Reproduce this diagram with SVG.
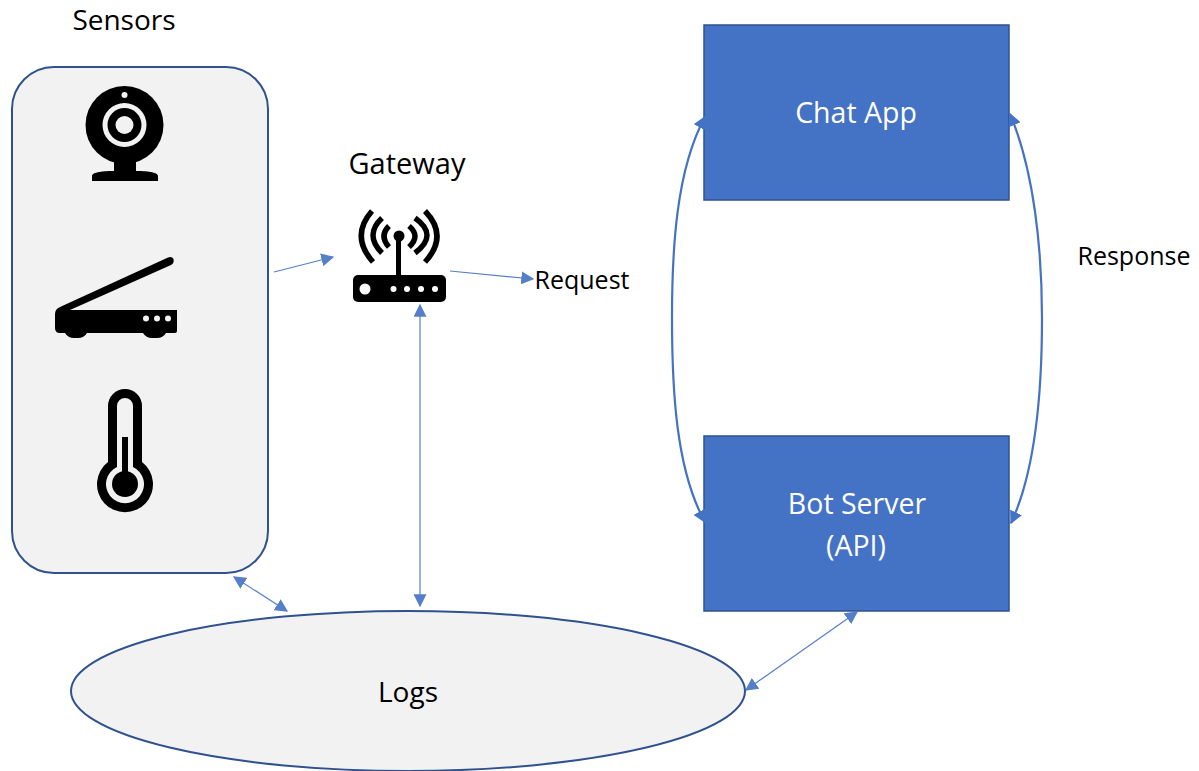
<svg xmlns="http://www.w3.org/2000/svg" width="1199" height="771" viewBox="0 0 1199 771">
<style>
text{font-family:"Open Sans","Noto Sans",sans-serif;font-size:25px;fill:#000;text-anchor:middle}
.w{fill:#fff;font-size:28.5px}
.box{fill:#4472c4;stroke:#2f528f;stroke-width:1.5}
.shape{fill:#f2f2f2;stroke:#2f528f;stroke-width:2}
.c{fill:none;stroke:#4472c4;stroke-width:1.2;opacity:.9}
.t{fill:none;stroke:#4472c4;stroke-width:2.2}
.k{fill:#000}
.g{fill:#f2f2f2}
.arc{fill:none;stroke:#000;stroke-width:5.500;stroke-linecap:butt}
</style>
<defs>
<marker id="e" viewBox="0 0 10 10" refX="9" refY="5" markerWidth="13" markerHeight="13" markerUnits="userSpaceOnUse" orient="auto-start-reverse"><path d="M0 0L10 5L0 10Z" fill="#4472c4"/></marker>
</defs>
<rect width="1199" height="771" fill="#fff"/>
<g id="sensors">
<rect class="shape" x="12" y="67" width="256" height="506" rx="42"/>
<text x="124" y="30" style="font-size:28px">Sensors</text>
</g>
<g id="webcam">
<circle class="k" cx="124.500" cy="125" r="39"/>
<circle cx="124.500" cy="95" r="3" fill="#f2f2f2"/>
<circle class="g" cx="124.500" cy="125" r="22"/>
<circle class="k" cx="124.500" cy="125" r="17"/>
<circle class="g" cx="124.500" cy="125" r="9"/>
<path class="k" d="M114 160H136V171C146 171 158 172 158 176V181H92V176C92 172 104 171 114 171Z"/>
</g>
<g id="scanner">
<path class="k" d="M55 314Q55 309 60 307L168 257.500Q172 256 173.500 259Q174.500 263 171 265L70 310H177V331Q177 333 175 333H166Q163 338 157 338H152Q146 338 143 333H87Q84 338 78 338H74Q68 338 65 333H60Q55 333 55 328Z"/>
<circle class="g" cx="146" cy="318.500" r="3"/><circle class="g" cx="157" cy="318.500" r="3"/><circle class="g" cx="168" cy="318.500" r="3"/>
</g>
<g id="thermometer">
<path class="k" d="M108 462V406A17 17 0 0 1 142 406V462A28 28 0 1 1 108 462Z"/>
<path class="g" d="M117 467V406A8 8 0 0 1 133 406V467A19 19 0 1 1 117 467Z"/>
<rect class="k" x="122" y="437" width="6" height="40"/>
<circle class="k" cx="125" cy="484" r="13"/>
</g>
<g id="gateway">
<text x="407" y="174" style="font-size:29px">Gateway</text>
<rect class="k" x="353" y="275" width="93" height="27" rx="5"/>
<rect class="k" x="396" y="236" width="5" height="42"/>
<circle class="k" cx="399" cy="236" r="5.500"/>
<circle cx="365" cy="289" r="5.500" fill="#fff"/>
<circle cx="393.500" cy="289" r="3" fill="#fff"/><circle cx="407" cy="289" r="3" fill="#fff"/><circle cx="421" cy="289" r="3" fill="#fff"/><circle cx="435" cy="289" r="3" fill="#fff"/>
<path class="arc" d="M389 226Q379 236 389 247M409 226Q421 236 409 247M382 218Q364 235 382 253M415 218Q439 235 415 253M372 211Q350 236 373 262M425 211Q449 236 425 262"/>
</g>
<g id="chat-app">
<rect class="box" x="704" y="25" width="305" height="175"/>
<text class="w" x="856" y="123">Chat App</text>
</g>
<g id="bot-server">
<rect class="box" x="704" y="436" width="305" height="175"/>
<text class="w" x="857" y="514">Bot Server</text>
<text class="w" x="856" y="556">(API)</text>
</g>
<g id="logs">
<ellipse class="shape" cx="408" cy="691" rx="337" ry="80"/>
<text x="408" y="702" style="font-size:28px">Logs</text>
</g>
<g id="request"><text x="582" y="289">Request</text></g>
<g id="response"><text x="1134" y="265">Response</text></g>
<g id="connectors">
<path class="c" marker-end="url(#e)" d="M274 272L333 257"/>
<path class="c" marker-end="url(#e)" d="M450 271L533 279"/>
<path class="c" marker-start="url(#e)" marker-end="url(#e)" d="M420 305V606"/>
<path class="c" marker-start="url(#e)" marker-end="url(#e)" d="M234 577L287 611"/>
<path class="c" marker-start="url(#e)" marker-end="url(#e)" d="M857 612L746 690"/>
<path class="t" marker-start="url(#e)" marker-end="url(#e)" d="M705 117C676 170 672 250 672 318C672 390 676 470 705 522"/>
<path class="t" marker-start="url(#e)" marker-end="url(#e)" d="M1010 114C1034 170 1042 250 1042 318C1042 390 1036 470 1011 523"/>
</g>
</svg>
